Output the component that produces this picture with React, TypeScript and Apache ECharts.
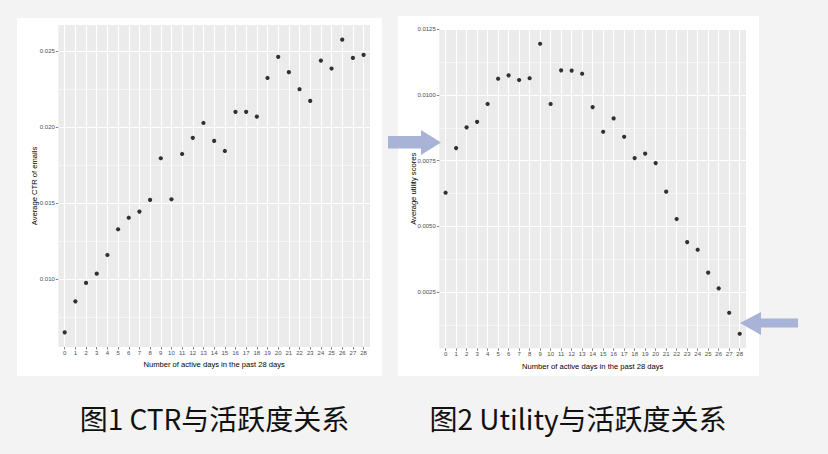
import React, { useEffect, useRef } from "react";
import * as echarts from "echarts";

// ---- data ----
const days = [0, 1, 2, 3, 4, 5, 6, 7, 8, 9, 10, 11, 12, 13, 14, 15, 16, 17, 18, 19, 20, 21, 22, 23, 24, 25, 26, 27, 28];
const ctrValues = [
  0.00651, 0.00855, 0.00976, 0.01037, 0.0116, 0.01329, 0.01405, 0.01445, 0.01522, 0.01796,
  0.01526, 0.01824, 0.0193, 0.02028, 0.0191, 0.01844, 0.02101, 0.02101, 0.0207, 0.02324,
  0.02463, 0.02362, 0.0225, 0.02173, 0.02438, 0.02386, 0.02576, 0.02456, 0.02476,
];
const utilityValues = [
  0.00628, 0.00798, 0.00877, 0.00898, 0.00966, 0.01062, 0.01075, 0.01057, 0.01064, 0.01195,
  0.00966, 0.01094, 0.01093, 0.01081, 0.00954, 0.0086, 0.00911, 0.00841, 0.0076, 0.00777,
  0.00741, 0.00632, 0.00528, 0.0044, 0.00411, 0.00324, 0.00264, 0.00171, 0.00091,
];
const ctrTicks = [0.01, 0.015, 0.02, 0.025];
const utilityTicks = [0.0025, 0.005, 0.0075, 0.01, 0.0125];
const xTitle = "Number of active days in the past 28 days";
const ctrTitle = "Average CTR of emails";
const utilityTitle = "Average utility scores";
const caption1 = "图1 CTR与活跃度关系";
const caption2 = "图2 Utility与活跃度关系";

// ---- layout ----
const PANEL_BG = "#EBEBEB";
const TICK_COLOR = "#333333";
const LABEL_COLOR = "#4D4D4D";
const FONT = "'Liberation Sans', Arial, sans-serif";
const ARROW = "#a8b3d7";

type PanelCfg = {
  left: number; top: number; right: number; bottom: number;
  values: number[]; ticks: number[]; decimals: number;
  yName: string; yNameGap: number; xNameGap: number;
};

const panels: PanelCfg[] = [
  { left: 58.3, top: 25, right: 370, bottom: 347, values: ctrValues, ticks: ctrTicks, decimals: 3, yName: ctrTitle, yNameGap: 19.5, xNameGap: 7.5 },
  { left: 439.3, top: 29.3, right: 746, bottom: 348.3, values: utilityValues, ticks: utilityTicks, decimals: 4, yName: utilityTitle, yNameGap: 21.5, xNameGap: 8 },
];

function buildOption() {
  const grid: any[] = [];
  const xAxis: any[] = [];
  const yAxis: any[] = [];
  const series: any[] = [];

  panels.forEach((p) => {
    const lo0 = Math.min(...p.values);
    const hi0 = Math.max(...p.values);
    const pad = (hi0 - lo0) * 0.05;
    const lo = lo0 - pad;
    const hi = hi0 + pad;
    const w = p.right - p.left;
    const h = p.bottom - p.top;
    const pix = (v: number) => p.top + ((hi - v) / (hi - lo)) * h;
    const dMin = days[0];
    const dMax = days[days.length - 1];
    const unit = w / (dMax - dMin + 1.2);
    const x0 = p.left + 0.6 * unit;
    const step = p.ticks[1] - p.ticks[0];
    const minors = p.ticks
      .map((t) => t - step / 2)
      .concat([p.ticks[p.ticks.length - 1] + step / 2])
      .filter((v) => v > lo && v < hi);

    const base = grid.length;
    // P: panel background + data coordinate system
    grid.push({ left: p.left, top: p.top, width: w, height: h, show: true, backgroundColor: PANEL_BG, borderWidth: 0 });
    xAxis.push({ gridIndex: base, type: "value", min: dMin - 0.6, max: dMax + 0.6, show: false });
    yAxis.push({
      gridIndex: base, type: "value", min: lo, max: hi, show: true,
      axisLine: { show: false }, axisTick: { show: false }, axisLabel: { show: false }, splitLine: { show: false },
      name: p.yName, nameLocation: "middle", nameRotate: 90, nameGap: p.yNameGap,
      nameTextStyle: { fontSize: 7.6, color: "#000", fontFamily: FONT },
    });
    // D: vertical grid lines + x axis
    grid.push({ left: x0, top: p.top, width: (dMax - dMin) * unit, height: h });
    xAxis.push({
      gridIndex: base + 1, type: "value", min: dMin, max: dMax, interval: 1,
      axisLine: { show: false },
      axisTick: { show: true, length: 2.5, lineStyle: { color: TICK_COLOR, width: 0.6 } },
      axisLabel: { show: true, fontSize: 6, color: LABEL_COLOR, margin: 3, fontFamily: FONT },
      splitLine: { show: true, lineStyle: { color: "#ffffff", width: 1 } },
      name: xTitle, nameLocation: "middle", nameGap: p.xNameGap,
      nameTextStyle: { fontSize: 7.6, color: "#000", fontFamily: FONT, verticalAlign: "top" },
    });
    yAxis.push({ gridIndex: base + 1, type: "value", min: 0, max: 1, show: false });
    // H1: major horizontal grid lines + y axis labels
    const tTop = pix(p.ticks[p.ticks.length - 1]);
    const tBot = pix(p.ticks[0]);
    grid.push({ left: p.left, top: tTop, width: w, height: tBot - tTop });
    xAxis.push({ gridIndex: base + 2, type: "value", min: 0, max: 1, show: false });
    yAxis.push({
      gridIndex: base + 2, type: "value", min: p.ticks[0], max: p.ticks[p.ticks.length - 1], interval: step,
      axisLine: { show: false },
      axisTick: { show: true, length: 2.5, lineStyle: { color: TICK_COLOR, width: 0.6 } },
      axisLabel: {
        show: true, fontSize: 6, color: LABEL_COLOR, margin: 3.5, fontFamily: FONT,
        formatter: (v: number) => v.toFixed(p.decimals),
      },
      splitLine: { show: true, lineStyle: { color: "#ffffff", width: 1 } },
    });
    // H2: minor horizontal grid lines
    const mTop = pix(minors[minors.length - 1]);
    const mBot = pix(minors[0]);
    grid.push({ left: p.left, top: mTop, width: w, height: mBot - mTop });
    xAxis.push({ gridIndex: base + 3, type: "value", min: 0, max: 1, show: false });
    yAxis.push({
      gridIndex: base + 3, type: "value", min: 0, max: minors.length - 1, interval: 1,
      axisLine: { show: false }, axisTick: { show: false }, axisLabel: { show: false },
      splitLine: { show: true, lineStyle: { color: "#ffffff", width: 0.5 } },
    });

    series.push({
      type: "scatter",
      xAxisIndex: base,
      yAxisIndex: base,
      symbol: "circle",
      symbolSize: 4.2,
      itemStyle: { color: "#000000" },
      silent: true,
      z: 5,
      data: days.map((d, i) => [d, p.values[i]]),
    });
  });

  const graphic: any[] = [
    { type: "rect", z: -10, shape: { x: 17, y: 18, width: 365, height: 358 }, style: { fill: "#ffffff" }, silent: true },
    { type: "rect", z: -10, shape: { x: 398, y: 16, width: 361, height: 360 }, style: { fill: "#ffffff" }, silent: true },
    {
      type: "polygon", z: 50, silent: true,
      shape: { points: [[388, 136], [421, 136], [421, 130], [441, 142.5], [421, 155], [421, 148.5], [388, 148.5]] },
      style: { fill: ARROW },
    },
    {
      type: "polygon", z: 50, silent: true,
      shape: { points: [[798, 318.5], [761, 318.5], [761, 312], [740, 323], [761, 335], [761, 327.5], [798, 327.5]] },
      style: { fill: ARROW },
    },
    {
      type: "text", z: 50, silent: true, x: 214.5, y: 418,
      style: { text: caption1, fill: "#111111", font: "28px 'Noto Sans CJK SC', sans-serif", textAlign: "center", textVerticalAlign: "middle" },
    },
    {
      type: "text", z: 50, silent: true, x: 578, y: 418,
      style: { text: caption2, fill: "#111111", font: "28px 'Noto Sans CJK SC', sans-serif", textAlign: "center", textVerticalAlign: "middle" },
    },
  ];

  return {
    animation: false,
    backgroundColor: "#f3f3f3",
    grid,
    xAxis,
    yAxis,
    series,
    graphic,
  };
}

export default function App() {
  const ref = useRef<HTMLDivElement>(null);
  useEffect(() => {
    if (!ref.current) return;
    const chart = echarts.init(ref.current, undefined, { renderer: "svg" });
    chart.setOption(buildOption() as any);
    return () => chart.dispose();
  }, []);
  return <div ref={ref} style={{ position: "fixed", left: 0, top: 0, width: 828, height: 454 }} />;
}
